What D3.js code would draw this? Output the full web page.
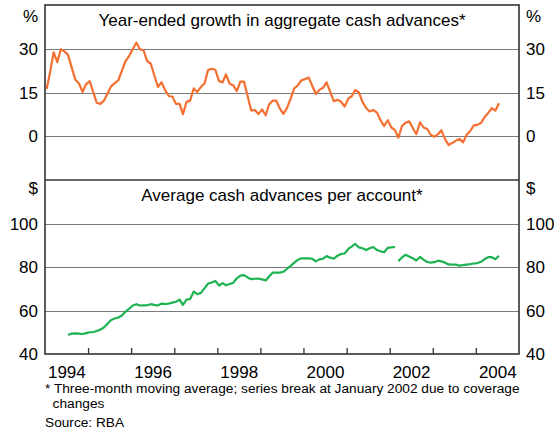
<!DOCTYPE html>
<html>
<head>
<meta charset="utf-8">
<script src="https://cdn.jsdelivr.net/npm/d3@7/dist/d3.min.js"></script>
<style>
    body { margin: 0; background: #fff; }
    svg text { font-family: "Liberation Sans", Arial, sans-serif; fill: #000; }
</style>
</head>
<body>
<div id="chart"></div>
<script>
// Year-ended growth in aggregate cash advances, %, monthly from Jan 1994
const growthStart = [1994, 0];
const growthValues = [
    16.2, 22.3, 28.8, 25.4, 29.8, 29.1, 27.9, 23.6, 19.4, 18.2, 15.2, 17.8,
    18.9, 15.0, 11.5, 11.1, 12.2, 14.6, 17.1, 18.2, 19.2, 22.5, 25.8, 27.5,
    29.8, 32.1, 29.8, 29.5, 25.8, 24.9, 21.0, 16.9, 18.5, 15.8, 13.8, 13.6,
    11.1, 11.1, 7.6, 11.8, 12.2, 16.4, 15.2, 16.9, 18.2, 22.8, 23.1, 22.8,
    18.9, 18.5, 21.2, 18.0, 17.5, 15.5, 18.7, 18.7, 13.7, 8.8, 9.0, 7.6,
    9.2, 7.2, 10.9, 12.2, 12.2, 9.5, 7.7, 9.7, 13.0, 16.4, 17.5, 19.2,
    19.6, 20.1, 17.3, 14.5, 15.9, 16.6, 18.5, 15.2, 12.0, 12.5, 11.8, 10.2,
    12.9, 13.8, 15.9, 15.0, 11.8, 9.7, 8.5, 9.0, 8.1, 5.5, 3.5, 5.5,
    3.0, 2.1, -0.5, 3.5, 4.6, 5.1, 2.9, 0.7, 4.8, 3.0, 2.5, 0.5,
    -0.2, 0.7, 2.1, -1.0, -3.0, -2.3, -1.6, -0.9, -2.1, 0.5, 1.8, 3.7,
    3.9, 4.6, 6.5, 8.0, 9.6, 8.8, 11.3
];

// Average cash advances per account, $, before the series break (from Jul 1994)
const perAccountOldStart = [1994, 6];
const perAccountOld = [
    48.7, 49.4, 49.5, 49.4, 49.2, 49.6,
    50.0, 50.1, 50.6, 51.2, 52.2, 53.9, 55.6, 56.3, 56.8, 57.7, 59.5, 60.8,
    62.3, 62.9, 62.3, 62.4, 62.4, 62.9, 62.6, 62.3, 63.2, 63.0, 63.2, 63.6,
    64.0, 65.0, 62.6, 65.0, 65.3, 68.7, 67.5, 68.1, 70.3, 72.4, 72.9, 73.6,
    71.5, 72.6, 71.6, 72.2, 72.7, 74.8, 76.0, 76.3, 75.2, 74.4, 74.6, 74.7,
    74.3, 73.8, 75.6, 77.4, 77.4, 77.4, 77.8, 79.2, 80.5, 82.0, 83.3, 84.0,
    84.0, 84.0, 83.8, 82.6, 83.5, 83.8, 85.0, 84.3, 83.8, 85.2, 86.0, 86.2,
    88.3, 89.5, 90.6, 89.0, 88.6, 87.8, 88.6, 89.2, 87.8, 87.2, 86.8, 88.8,
    89.0, 89.2
];

// after the series break (from Mar 2002)
const perAccountNewStart = [2002, 2];
const perAccountNew = [
    82.7, 84.4, 85.6, 84.8, 84.0, 83.0, 84.6, 83.4, 82.3, 82.0,
    82.2, 82.9, 82.6, 82.0, 81.2, 81.1, 81.1, 80.6, 80.9, 81.1, 81.3, 81.6,
    81.8, 82.4, 83.6, 84.5, 84.5, 83.6, 85.2
];

const growthTicks = [0, 15, 30];
const dollarTicks = [40, 60, 80, 100];
const yearLabels = [1994, 1996, 1998, 2000, 2002, 2004];
const yearTicks = d3.range(1995, 2005);

const topTitle = "Year-ended growth in aggregate cash advances*";
const bottomTitle = "Average cash advances per account*";
const footnotes = [
    "* Three-month moving average; series break at January 2002 due to coverage",
    "  changes",
    "Source: RBA"
];

class CashAdvancesChart {

    constructor(parentElement) {
        this.parentElement = parentElement;
        this.initVis();
    }

    initVis() {
        let vis = this;

        vis.width = 559;
        vis.height = 434;
        vis.plot = {left: 45, right: 519, top: 5, mid: 180, bottom: 354};
        vis.fontSize = 17;

        vis.svg = d3.select(`#${vis.parentElement}`)
            .append("svg")
            .attr("width", vis.width)
            .attr("height", vis.height);

        vis.svg.append("rect")
            .attr("width", vis.width)
            .attr("height", vis.height)
            .attr("fill", "#fff");

        vis.x = d3.scaleTime()
            .domain([new Date(1994, 0, 1), new Date(2005, 0, 1)])
            .range([vis.plot.left, vis.plot.right]);

        vis.yTop = d3.scaleLinear()
            .domain([-15, 45])
            .range([vis.plot.mid, vis.plot.top]);

        vis.yBottom = d3.scaleLinear()
            .domain([40, 120])
            .range([vis.plot.bottom, vis.plot.mid]);

        vis.wrangleData();
    }

    toSeries(start, values) {
        return values.map((v, i) => ({date: new Date(start[0], start[1] + i, 15), value: v}));
    }

    wrangleData() {
        let vis = this;

        vis.growth = vis.toSeries(growthStart, growthValues);
        vis.oldSeries = vis.toSeries(perAccountOldStart, perAccountOld);
        vis.newSeries = vis.toSeries(perAccountNewStart, perAccountNew);

        vis.updateVis();
    }

    drawPanel(y, ticks, unit, unitY, title, titleY, skipTick) {
        let vis = this;
        let p = vis.plot;

        // gridlines
        vis.svg.append("g")
            .selectAll("line")
            .data(ticks.filter(t => t !== skipTick))
            .enter().append("line")
            .attr("x1", p.left).attr("x2", p.right)
            .attr("y1", d => Math.round(y(d)) + 0.5)
            .attr("y2", d => Math.round(y(d)) + 0.5)
            .attr("stroke", "#7a7a7a")
            .attr("stroke-width", 1);

        // tick labels, both sides
        [{x: p.left - 7, anchor: "end"}, {x: p.right + 7, anchor: "start"}].forEach(side => {
            vis.svg.append("g")
                .selectAll("text")
                .data(ticks)
                .enter().append("text")
                .attr("x", side.x)
                .attr("y", d => y(d))
                .attr("dy", "0.36em")
                .attr("text-anchor", side.anchor)
                .attr("font-size", vis.fontSize)
                .text(d => d);

            vis.svg.append("text")
                .attr("x", side.x)
                .attr("y", unitY)
                .attr("dy", "0.36em")
                .attr("text-anchor", side.anchor)
                .attr("font-size", vis.fontSize)
                .text(unit);
        });

        vis.svg.append("text")
            .attr("x", (p.left + p.right) / 2)
            .attr("y", titleY)
            .attr("dy", "0.36em")
            .attr("text-anchor", "middle")
            .attr("font-size", vis.fontSize)
            .text(title);
    }

    updateVis() {
        let vis = this;
        let p = vis.plot;

        vis.drawPanel(vis.yTop, growthTicks, "%", 16, topTitle, 20, null);
        vis.drawPanel(vis.yBottom, dollarTicks, "$", 188, bottomTitle, 195, 40);

        const line = (y) => d3.line()
            .x(d => vis.x(d.date))
            .y(d => y(d.value));

        vis.svg.append("path")
            .datum(vis.growth)
            .attr("d", line(vis.yTop))
            .attr("fill", "none")
            .attr("stroke", "#f47032")
            .attr("stroke-width", 2.2)
            .attr("stroke-linejoin", "round");

        [vis.oldSeries, vis.newSeries].forEach(s => {
            vis.svg.append("path")
                .datum(s)
                .attr("d", line(vis.yBottom))
                .attr("fill", "none")
                .attr("stroke", "#1db350")
                .attr("stroke-width", 2.2)
                .attr("stroke-linejoin", "round");
        });

        // year ticks pointing up into the lower panel
        vis.svg.append("g")
            .attr("transform", `translate(0,${p.bottom})`)
            .call(d3.axisBottom(vis.x)
                .tickValues(yearTicks.map(yr => new Date(yr, 0, 1)))
                .tickSize(-6)
                .tickFormat(""))
            .call(g => g.select(".domain").remove())
            .selectAll("line")
            .attr("stroke", "#333")
            .attr("stroke-width", 1.3);

        // year labels at mid-year
        vis.svg.append("g")
            .attr("transform", `translate(0,${p.bottom})`)
            .call(d3.axisBottom(vis.x)
                .tickValues(yearLabels.map(yr => new Date(yr, 6, 1)))
                .tickSize(0)
                .tickPadding(12)
                .tickFormat(d3.timeFormat("%Y")))
            .call(g => g.select(".domain").remove())
            .selectAll("text")
            .attr("font-size", vis.fontSize)
            .attr("font-family", "Liberation Sans, Arial, sans-serif")
            .attr("fill", "#000");

        // frame and panel divider
        vis.svg.append("rect")
            .attr("x", p.left).attr("y", p.top)
            .attr("width", p.right - p.left)
            .attr("height", p.bottom - p.top)
            .attr("fill", "none")
            .attr("stroke", "#333")
            .attr("stroke-width", 1.6);

        vis.svg.append("line")
            .attr("x1", p.left).attr("x2", p.right)
            .attr("y1", p.mid).attr("y2", p.mid)
            .attr("stroke", "#333")
            .attr("stroke-width", 1.6);

        // footnotes
        vis.svg.append("g")
            .selectAll("text")
            .data(footnotes)
            .enter().append("text")
            .attr("x", p.left)
            .attr("y", (d, i) => [393, 408, 427][i])
            .attr("font-size", 13.7)
            .style("white-space", "pre")
            .text(d => d);
    }
}

new CashAdvancesChart("chart");
</script>
</body>
</html>
